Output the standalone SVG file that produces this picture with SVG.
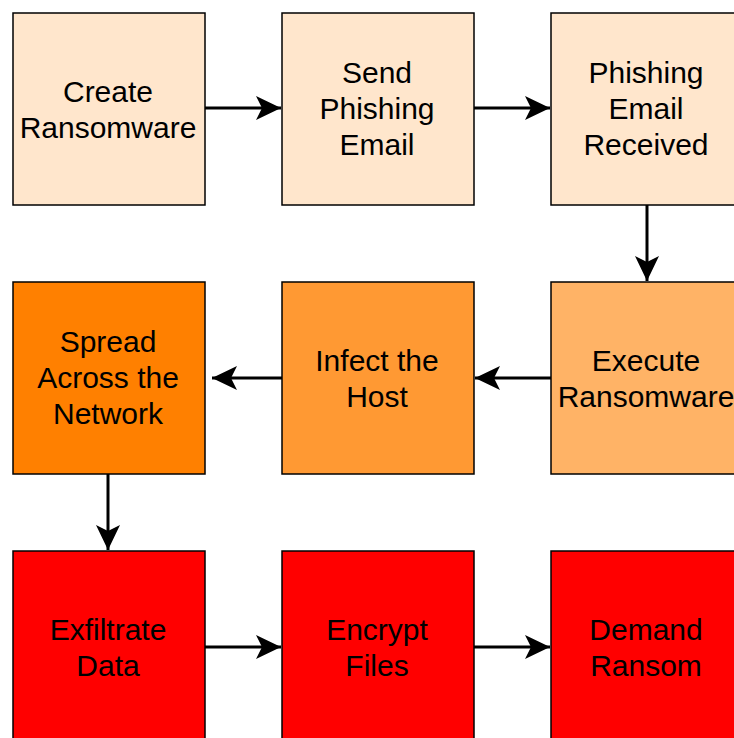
<svg xmlns="http://www.w3.org/2000/svg" width="734" height="738" viewBox="0 0 734 738">
  <style>
    .box { stroke: #000; stroke-width: 1.5; }
    .lbl { font-family: "Liberation Sans", Arial, sans-serif; font-size: 30px; fill: #000; text-anchor: middle; }
    .edge { stroke: #000; stroke-width: 3; fill: none; marker-end: url(#arrow); }
  </style>
  <defs>
    <marker id="arrow" markerUnits="userSpaceOnUse" markerWidth="28" markerHeight="28" viewBox="-26 -14 28 28" refX="0" refY="0" orient="auto">
      <path d="M0,0 L-25,-12 L-19,0 L-25,12 Z" fill="#000"/>
    </marker>
  </defs>
  <rect width="734" height="738" fill="#fff"/>

  <g id="connectors">
    <line class="edge" x1="205" y1="108" x2="281" y2="108"/>
    <line class="edge" x1="474" y1="108" x2="550" y2="108"/>
    <line class="edge" x1="647" y1="205" x2="647" y2="281"/>
    <line class="edge" x1="551" y1="378" x2="475" y2="378"/>
    <line class="edge" x1="282" y1="378" x2="212" y2="378"/>
    <line class="edge" x1="108" y1="474" x2="108" y2="550"/>
    <line class="edge" x1="205" y1="647" x2="281" y2="647"/>
    <line class="edge" x1="474" y1="647" x2="550" y2="647"/>
  </g>

  <g id="create-ransomware">
    <rect class="box" x="13" y="13" width="192" height="192" fill="#FFE6CC"/>
    <text class="lbl" x="108" y="102">Create</text>
    <text class="lbl" x="108" y="138">Ransomware</text>
  </g>
  <g id="send-phishing-email">
    <rect class="box" x="282" y="13" width="192" height="192" fill="#FFE6CC"/>
    <text class="lbl" x="377" y="83">Send</text>
    <text class="lbl" x="377" y="119">Phishing</text>
    <text class="lbl" x="377" y="155">Email</text>
  </g>
  <g id="phishing-email-received">
    <rect class="box" x="551" y="13" width="192" height="192" fill="#FFE6CC"/>
    <text class="lbl" x="646" y="83">Phishing</text>
    <text class="lbl" x="646" y="119">Email</text>
    <text class="lbl" x="646" y="155">Received</text>
  </g>

  <g id="execute-ransomware">
    <rect class="box" x="551" y="282" width="192" height="192" fill="#FFB366"/>
    <text class="lbl" x="646" y="371">Execute</text>
    <text class="lbl" x="646" y="407">Ransomware</text>
  </g>
  <g id="infect-the-host">
    <rect class="box" x="282" y="282" width="192" height="192" fill="#FF9933"/>
    <text class="lbl" x="377" y="371">Infect the</text>
    <text class="lbl" x="377" y="407">Host</text>
  </g>
  <g id="spread-across-network">
    <rect class="box" x="13" y="282" width="192" height="192" fill="#FF8000"/>
    <text class="lbl" x="108" y="352">Spread</text>
    <text class="lbl" x="108" y="388">Across the</text>
    <text class="lbl" x="108" y="424">Network</text>
  </g>

  <g id="exfiltrate-data">
    <rect class="box" x="13" y="551" width="192" height="192" fill="#FF0000"/>
    <text class="lbl" x="108" y="640">Exfiltrate</text>
    <text class="lbl" x="108" y="676">Data</text>
  </g>
  <g id="encrypt-files">
    <rect class="box" x="282" y="551" width="192" height="192" fill="#FF0000"/>
    <text class="lbl" x="377" y="640">Encrypt</text>
    <text class="lbl" x="377" y="676">Files</text>
  </g>
  <g id="demand-ransom">
    <rect class="box" x="551" y="551" width="192" height="192" fill="#FF0000"/>
    <text class="lbl" x="646" y="640">Demand</text>
    <text class="lbl" x="646" y="676">Ransom</text>
  </g>
</svg>
